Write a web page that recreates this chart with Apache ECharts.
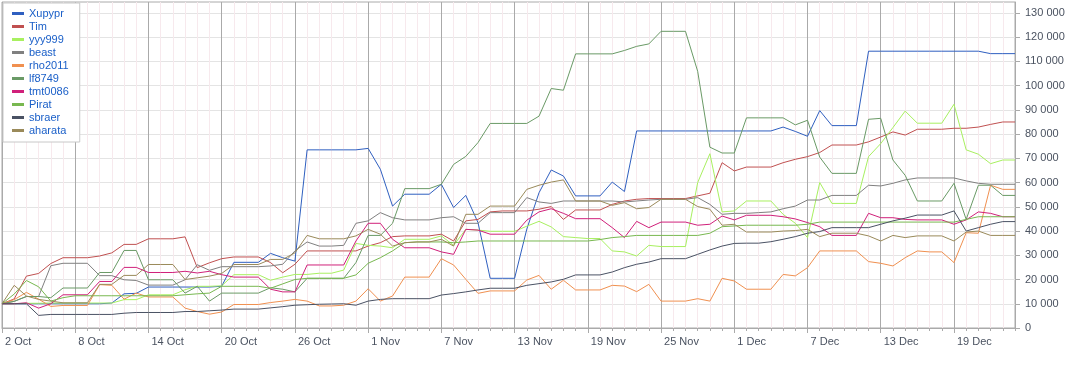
<!DOCTYPE html>
<html><head><meta charset="utf-8">
<script src="https://cdn.jsdelivr.net/npm/echarts@6/dist/echarts.min.js"></script>
<style>html,body{margin:0;padding:0;background:#fff}#c{width:1083px;height:368px}</style>
</head><body><div id="c"></div>
<script>
const categories = [
'2 Oct','3 Oct','4 Oct','5 Oct','6 Oct','7 Oct','8 Oct','9 Oct','10 Oct','11 Oct','12 Oct','13 Oct','14 Oct','15 Oct','16 Oct','17 Oct','18 Oct','19 Oct','20 Oct','21 Oct','22 Oct','23 Oct','24 Oct','25 Oct','26 Oct','27 Oct','28 Oct','29 Oct','30 Oct','31 Oct',
'1 Nov','2 Nov','3 Nov','4 Nov','5 Nov','6 Nov','7 Nov','8 Nov','9 Nov','10 Nov','11 Nov','12 Nov','13 Nov','14 Nov','15 Nov','16 Nov','17 Nov','18 Nov','19 Nov','20 Nov','21 Nov','22 Nov','23 Nov','24 Nov','25 Nov','26 Nov','27 Nov','28 Nov','29 Nov','30 Nov',
'1 Dec','2 Dec','3 Dec','4 Dec','5 Dec','6 Dec','7 Dec','8 Dec','9 Dec','10 Dec','11 Dec','12 Dec','13 Dec','14 Dec','15 Dec','16 Dec','17 Dec','18 Dec','19 Dec','20 Dec','21 Dec','22 Dec','23 Dec','24 Dec'];

const seriesNames = ['Xupypr','Tim','yyy999','beast','rho2011','lf8749','tmt0086','Pirat','sbraer','aharata'];

const Xupypr = [10000,10000,10000,10000,10000,10000,10000,10000,10000,
10300,14100,14300,16900,16900,16900,16900,16900,16900,17200,
27100,27100,27100,30800,29000,27600,
73500,73500,73500,73500,73500,74100,65500,50300,55200,55200,55200,59300,49700,54700,43500,
20500,20500,20500,40800,55800,65200,62700,54500,54500,54500,60200,56300,
81300,81300,81300,81300,81300,81300,81300,81300,81300,81300,81300,81300,
82900,81100,79100,89700,83500,83500,83500,
114200,114200,114200,114200,114200,114200,114200,114200,114200,114200,
113200,113200,113200];

const Tim = [10000,12000,21400,22500,26600,29000,29000,29000,29700,31000,
34500,34500,36800,36800,36800,37600,24900,26900,28600,29300,
29300,29300,27000,22800,26300,31800,31800,31800,31800,31800,
33800,35200,37700,38000,38000,38000,38700,35900,44200,44800,
47900,48300,48300,48300,49000,50100,44800,48700,48700,48700,
51000,52400,53100,53400,53400,53400,53400,54500,55600,68200,
64800,66400,66400,66400,68200,69600,70700,72400,75500,75500,
75500,76800,78800,80900,79600,82000,82000,82000,82400,82400,
82900,84000,85000,85000];

const yyy999 = [10000,10000,10200,10200,10300,10300,10300,10300,10300,10300,
11700,11700,13700,13700,13700,15800,17200,17200,17400,22000,
22000,22000,19700,21000,22100,22100,22600,22600,23900,34900,
34100,33800,33100,36600,36600,36600,38000,34100,40700,40400,
39900,39900,39900,42000,44000,41700,37700,37300,36900,36900,
31800,31400,29700,34100,33600,33600,33600,60000,71900,47900,
48300,52400,52400,52400,46900,43200,37300,60000,51400,51400,
51400,70700,76100,82700,89500,84500,84500,84500,92300,73500,
71700,67800,69300,69300];

const beast = [10000,11000,13000,13000,25700,26700,26700,26700,21600,21600,
19900,19600,17700,17700,17700,19900,26100,23800,25300,25300,
25300,25300,25600,26300,31800,35500,33800,33800,34100,43200,
44200,47600,45500,44600,44600,44600,45500,45900,43200,43200,
47600,47600,47600,53800,52000,51400,52400,52400,52400,52400,
52400,52000,52400,52800,53100,53100,53100,53800,51000,46900,
47300,47300,47600,47900,49200,50300,52800,52800,54700,54700,
54700,58900,58600,59700,61100,61900,61900,61900,61900,60700,
59700,59300,59300,59300];

const rho2011 = [10000,11700,14700,11900,8900,9300,9300,9300,17900,17600,
11900,14400,12800,12800,12800,8200,6800,5700,6600,9700,
9700,9700,10500,11100,11800,11100,9100,9100,9400,11100,
16200,11100,13200,21000,21000,21000,28600,26000,20100,14300,
15300,15300,15300,19800,21700,16000,19700,15700,15700,15700,
17600,17300,15000,18000,11100,11100,11100,12100,11100,20500,
19400,16000,16000,16000,22100,21500,24900,31800,31800,31800,
31800,27400,26700,25600,29000,31800,31400,31400,27000,39300,
39100,58900,57200,57200];

const lf8749 = [10000,11000,13000,13000,12500,16500,16500,16500,22900,22900,
32000,32000,19900,19900,19900,14400,17200,11100,14400,14400,
14400,14400,16600,16000,14900,20500,20500,20500,20500,27000,
38200,38200,43200,57500,57500,57500,59300,67500,70800,76500,
84400,84400,84400,84400,87400,98800,98100,113100,113100,113100,
113100,114500,116200,117200,122400,122400,122400,105900,74600,72200,
72200,86700,86700,86700,86700,83800,85700,70500,63800,63800,
63800,86100,86500,69300,63000,52400,52400,52400,59700,44800,
58900,58900,54700,54700];

const tmt0086 = [10000,10000,10400,8200,10000,13700,13700,13700,19200,19200,
25000,25000,22900,22900,22900,23400,22700,23400,22000,21000,
21000,21000,16000,14900,14900,26000,26000,26000,26000,35900,
43200,43200,36600,33100,33100,33100,31400,30400,40700,40400,
38700,38700,38700,44500,47900,49200,47300,45100,45100,45100,
41400,37300,44000,41400,43700,43700,43700,42400,42800,46200,
44600,46500,46500,46500,45900,45000,43500,41800,38200,38200,
38200,47300,45500,45500,44800,44600,44600,44600,42800,44600,
47900,47300,45900,45900];

const Pirat = [10000,14000,19600,17000,11100,12500,13300,13300,13300,13300,
13300,13300,13300,13300,13300,13700,14100,14400,17200,17200,
17200,17200,16400,18200,20000,20500,20500,20500,20500,21900,
26700,29000,31800,35200,35500,35500,35500,35200,35500,35900,
35900,35900,35900,35900,35900,35900,35900,35900,35900,36500,
37300,37700,38200,38200,38200,38200,38200,38200,39100,41800,
42100,42400,42400,42400,42400,42400,42800,43700,43700,43700,
43700,43700,43700,43700,43700,43700,43700,43700,43700,44800,
45900,45900,45900,45900];

const sbraer = [10000,10000,10000,5200,5600,5600,5600,5600,5600,5600,
6100,6400,6400,6400,6400,6800,6800,7100,7400,7800,
7800,7800,8300,8800,9400,9600,9800,9900,10000,9400,
11100,11800,12100,12100,12100,12100,13600,14200,14900,15700,
16400,16400,16400,17600,18300,19000,20100,21900,21900,21900,
23100,24900,26300,27200,28600,28600,28600,30400,32200,33800,
34900,35000,35000,35600,36600,37700,39100,39800,41400,41400,
41400,41400,42800,44200,45300,46600,46600,46600,48300,40000,
41400,42800,43900,43900];

const aharata = [10000,17600,13200,11800,11100,10400,10400,10400,18000,18000,
21700,21700,26200,26200,26200,20000,20700,21400,22500,26200,
26200,26200,28300,28300,31000,38200,36800,36800,36800,38000,
40700,38700,33800,35200,35500,35500,36600,33800,46900,46900,
50300,50300,50300,57200,58900,60200,61100,52400,52400,52400,
50600,51700,49200,49700,53100,53100,53100,50100,49000,42400,
42800,39600,39600,39600,40000,40200,40700,37700,39100,39100,
39100,38000,35900,38200,37300,38000,38000,38000,35900,39600,
40000,38200,38200,38200];

const yTicks = [0,10000,20000,30000,40000,50000,60000,70000,80000,90000,100000,110000,120000,130000];

const seriesValues = [Xupypr, Tim, yyy999, beast, rho2011, lf8749, tmt0086, Pirat, sbraer, aharata];
const seriesColors = ['#2f5fc0','#c05050','#a8f060','#808080','#f09050','#6a9a66','#d0207a','#78b850','#4a5264','#9a8a5a'];

const FONT = 'Liberation Sans, Arial, sans-serif';
const chart = echarts.init(document.getElementById('c'), null, {renderer: 'canvas'});
const fmt = v => String(v).replace(/\B(?=(\d{3})+(?!\d))/g, ' ');

chart.setOption({
  animation: false,
  backgroundColor: '#fff',
  color: seriesColors,
  grid: {left: 2, right: 68, top: 2, bottom: 40, show: true, borderColor: '#aaaaaa', borderWidth: 1, backgroundColor: 'transparent', containLabel: false},
  legend: {
    orient: 'vertical', left: 3, top: 3,
    backgroundColor: '#fff', borderColor: '#c8c8c8', borderWidth: 1,
    padding: [4, 11, 5, 9],
    itemWidth: 12, itemHeight: 3, itemGap: 0, icon: 'rect',
    textStyle: {color: '#1a5fc8', fontSize: 11, fontFamily: FONT, lineHeight: 13},
    data: seriesNames
  },
  xAxis: [{
    type: 'category', data: categories, boundaryGap: false, position: 'bottom',
    axisLine: {show: true, lineStyle: {color: '#aaaaaa'}},
    axisTick: {show: true, interval: 0, length: 3, lineStyle: {color: '#aaaaaa'}},
    axisLabel: {interval: 5, align: 'left', padding: [0,0,0,3], margin: 8, color: '#4a5260', fontSize: 11, fontFamily: FONT},
    splitLine: {show: true, interval: 0, lineStyle: {color: '#f7e9ed', width: 1}}
  }, {
    type: 'category', data: categories, boundaryGap: false, position: 'bottom',
    axisLine: {show: false},
    axisTick: {show: true, interval: 5, length: 5, lineStyle: {color: '#aaaaaa'}},
    axisLabel: {show: false},
    splitLine: {show: true, interval: 5, lineStyle: {color: '#aaaaaa', width: 1}}
  }],
  yAxis: {
    type: 'value', position: 'right', min: 0, max: 134500, interval: 10000,
    axisLine: {show: true, lineStyle: {color: '#aaaaaa'}},
    axisTick: {show: true, length: 5, inside: false, customValues: yTicks, lineStyle: {color: '#aaaaaa'}},
    axisLabel: {margin: 10, color: '#4a5260', fontSize: 11, fontFamily: FONT, customValues: yTicks,
      formatter: v => (v % 10000 === 0 ? fmt(v) : '')},
    splitLine: {show: true, lineStyle: {color: '#e4e4e4', width: 1}}
  },
  series: seriesNames.map((n, i) => ({
    name: n, type: 'line', data: seriesValues[i], xAxisIndex: 0,
    showSymbol: false, symbol: 'none', smooth: false,
    lineStyle: {width: 1, color: seriesColors[i]}, itemStyle: {color: seriesColors[i]},
    emphasis: {disabled: true}
  }))
});
</script>
</body></html>
